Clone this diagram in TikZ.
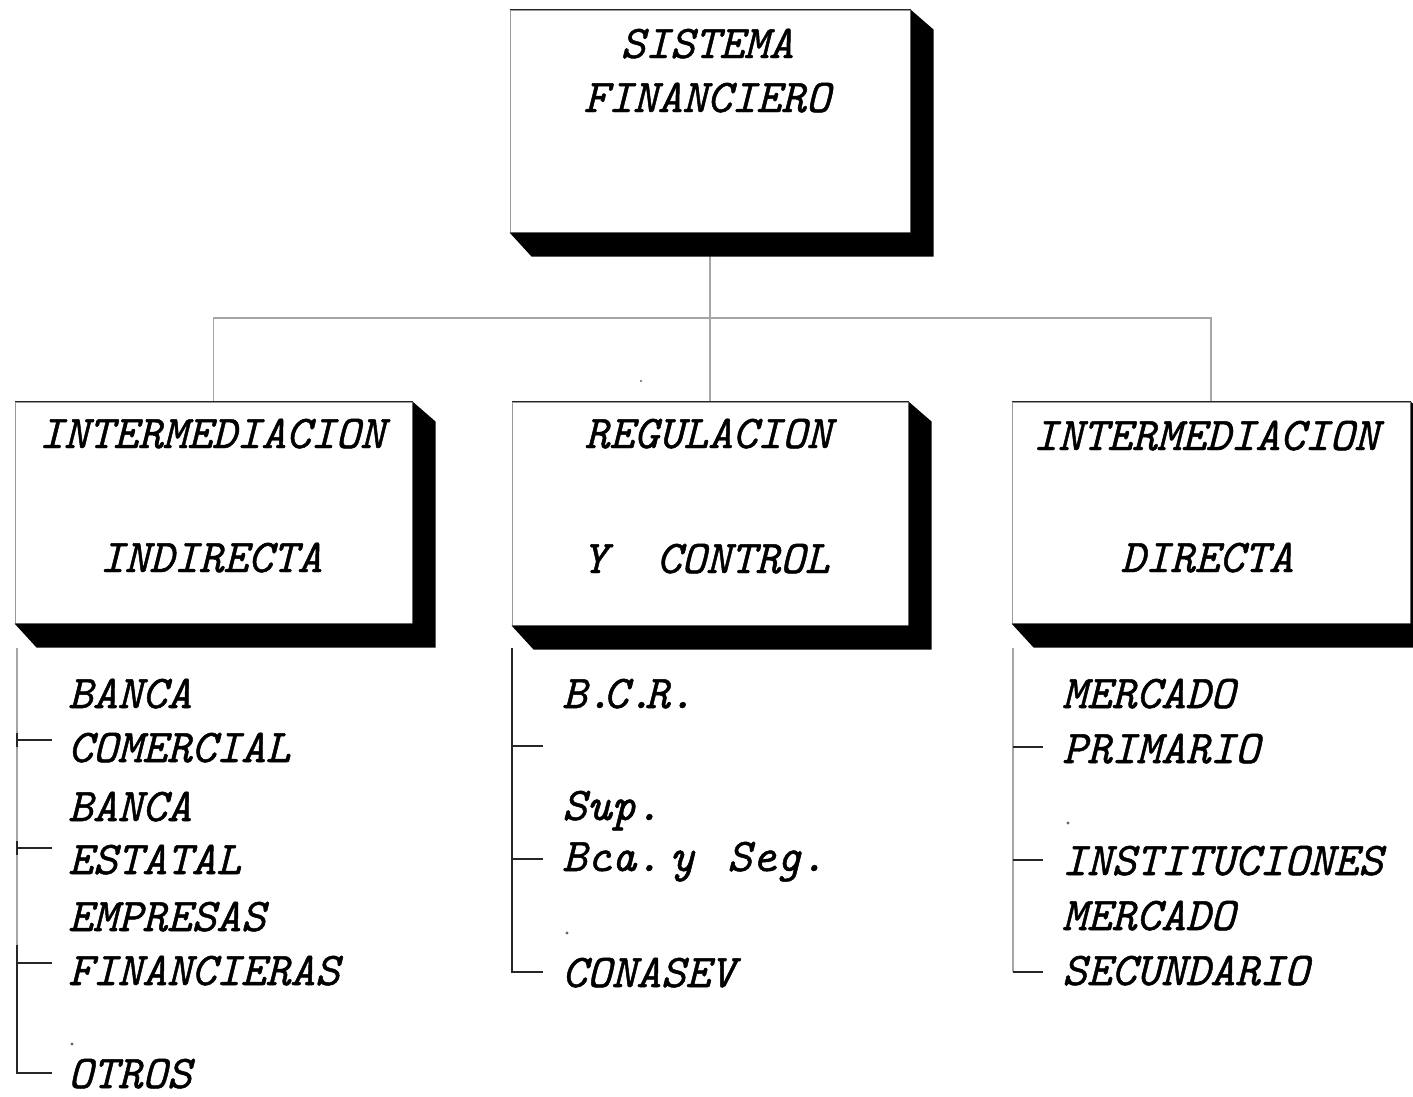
\documentclass[tikz,border=0pt]{standalone}
\usepackage{fontspec}
\newfontfamily\twfont{lmmono10-italic.otf}[FakeBold=1.0]
\usetikzlibrary{calc}
\newcommand\boxshadow[1]{%
  \fill[black] (#1.north east) -- ($(#1.north east)+(23,20)$) -- ($(#1.south east)+(23,24)$)
    -- ($(#1.south west)+(22,24)$) -- (#1.south west) -- (#1.south east) -- cycle;
  \draw[black!85, line width=1.4pt] (#1.north west) -- (#1.north east);}
\begin{document}
\begin{tikzpicture}[x=1pt,y=-1pt,
  box/.style={rectangle, fill=white, draw=black!40, line width=1pt, inner sep=0pt},
  lbl/.style={font=\fontsize{47}{50}\twfont, inner sep=0pt, anchor=base},
  item/.style={font=\fontsize{47}{50}\twfont, inner sep=0pt, anchor=base west},
  conn/.style={draw=black!35, line width=1.3pt},
  spine/.style={draw=black!85, line width=1.3pt},
  faint/.style={draw=black!35, line width=1.3pt},
  speck/.style={fill=black!60}]
\useasboundingbox (0,0) rectangle (1413,1096);
\clip (0,0) rectangle (1413,1096);
\fill[white] (0,0) rectangle (1413,1096);

% boxes
\node[box, minimum width=400pt, minimum height=222pt] (sf) at (710,121) {};
\node[box, minimum width=397pt, minimum height=221pt] (ii) at (213.5,512.5) {};
\node[box, minimum width=396pt, minimum height=223pt] (rc) at (710,513.5) {};
\node[box, minimum width=398pt, minimum height=221pt] (id) at (1211,512.5) {};

% connectors
\coordinate (bus) at (0,318);
\draw[conn] (sf.south) -- (rc.north);
\draw[conn] (ii.north) -- (ii.north |- bus) -- (id.north |- bus) -- (id.north);

% shadows
\boxshadow{sf}
\boxshadow{ii}
\boxshadow{rc}
\boxshadow{id}

% box texts
\node[lbl] (t1) at (707,58) {SISTEMA};
\node[lbl] (t2) at (707,112) {FINANCIERO};
\node[lbl] (t3) at (212,448) {INTERMEDIACION};
\node[lbl] (t4) at (211,572) {INDIRECTA};
\node[lbl] (t5) at (708,448) {REGULACION};
\node[lbl] (t6) at (706,573) {Y\ \ CONTROL};
\node[lbl] (t7) at (1206,450) {INTERMEDIACION};
\node[lbl] (t8) at (1207,572) {DIRECTA};

% left column
\draw[faint] (17,648) -- (17,945);
\draw[spine] (17,945) -- (17,1073) -- (52,1073);
\foreach \y in {740,848,963}{
  \draw[spine] (17,\y-7) -- (17,\y+7);
  \draw[spine] (17,\y) -- (52,\y);}
\node[item] (a1) at (68,708) {BANCA};
\node[item] (a2) at (68,762) {COMERCIAL};
\node[item] (a3) at (68,821) {BANCA};
\node[item] (a4) at (68,874) {ESTATAL};
\node[item] (a5) at (68,931) {EMPRESAS};
\node[item] (a6) at (68,985) {FINANCIERAS};
\node[item] (a7) at (68,1088) {OTROS};
\fill[speck] (72,1044) circle (1.6);

% middle column
\draw[spine] (512,648) -- (512,972) -- (543,972);
\draw[spine] (512,746) -- (543,746);
\draw[spine] (512,859) -- (543,859);
\node[item] (b1) at (562,708) {B.\kern-8pt C.\kern-8pt R.};
\node[item] (b2) at (562,820) {Sup.};
\node[item] (b3) at (562,871) {Bca.\hspace{-24pt} y\hspace{8pt} Seg.};
\node[item] (b4) at (562,987) {CONASEV};
\fill[speck] (567,933) circle (1.6);
\fill[speck] (641,381) circle (1.2);

% right column
\draw[faint] (1013,648) -- (1013,972);
\draw[spine] (1013,972) -- (1043,972);
\draw[spine] (1013,747) -- (1043,747);
\draw[spine] (1013,860) -- (1043,860);
\node[item] (c1) at (1062,708) {MERCADO};
\node[item] (c2) at (1062,763) {PRIMARIO};
\node[item] (c3) at (1062,875) {INSTITUCIONES};
\node[item] (c4) at (1062,930) {MERCADO};
\node[item] (c5) at (1062,985) {SECUNDARIO};
\fill[speck] (1068,823) circle (1.6);
\end{tikzpicture}
\end{document}
